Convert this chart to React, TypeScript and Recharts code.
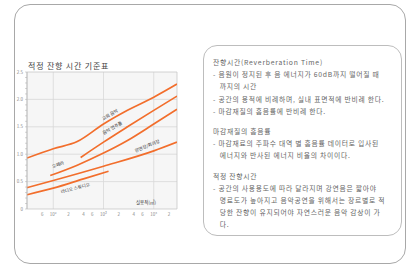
import React from "react";
import {
  LineChart,
  Line,
  XAxis,
  YAxis,
  CartesianGrid,
  ReferenceArea,
  ReferenceDot,
} from "recharts";

// room volume (m³) vs reverberation time (s)
const church = [
  { v: 30, t: 0.93 },
  { v: 100, t: 1.1 },
  { v: 300, t: 1.23 },
  { v: 1000, t: 1.55 },
  { v: 3000, t: 1.8 },
  { v: 10000, t: 2.04 },
  { v: 29000, t: 2.28 },
];
const concertHall = [
  { v: 350, t: 0.94 },
  { v: 1000, t: 1.22 },
  { v: 3000, t: 1.5 },
  { v: 10000, t: 1.8 },
  { v: 29000, t: 2.06 },
];
const opera = [
  { v: 87, t: 0.61 },
  { v: 300, t: 0.8 },
  { v: 1000, t: 1.02 },
  { v: 3000, t: 1.25 },
  { v: 10000, t: 1.55 },
  { v: 29000, t: 1.82 },
];
const lecture = [
  { v: 30, t: 0.39 },
  { v: 100, t: 0.52 },
  { v: 1000, t: 0.78 },
  { v: 10000, t: 1.06 },
  { v: 29000, t: 1.22 },
];
const studio = [
  { v: 30, t: 0.26 },
  { v: 100, t: 0.38 },
  { v: 400, t: 0.55 },
  { v: 1260, t: 0.69 },
];

const seriesList = [church, concertHall, opera, lecture, studio];

const curveLabels = [
  { text: "교회 음악", v: 1350, t: 1.72, angle: -30 },
  { text: "음악 연주홀", v: 1500, t: 1.48, angle: -30 },
  { text: "오페라", v: 125, t: 0.81, angle: -20 },
  { text: "강연장/회의장", v: 7400, t: 1.15, angle: -22 },
  { text: "라디오 스튜디오", v: 275, t: 0.38, angle: -15 },
];

const xTicks = [60, 80, 100, 200, 400, 600, 800, 1000, 2000, 4000, 6000, 8000, 10000, 20000];
const xTickLabels = ["6", "8", "10²", "2", "4", "6", "8", "10³", "2", "4", "6", "8", "10⁴", "2"];
const yTicks = [0, 0.1, 0.2, 0.3, 0.4, 0.5, 0.6, 0.7, 0.8, 0.9, 1, 1.1, 1.2, 1.3, 1.4, 1.5, 1.6, 1.7, 1.8, 1.9, 2, 2.1, 2.2, 2.3, 2.4, 2.5];
const yLabels: Record<string, string> = { "0": "0", "0.5": "0.5", "1": "1.0", "1.5": "1.5", "2": "2.0", "2.5": "2.5" };

const textLines = [
  { s: "잔향시간(Reverberation Time)", gap: 0 },
  { s: "- 음원이 정지된 후 음 에너지가 60dB까지 떨어질 때", gap: 0 },
  { s: "   까지의 시간", gap: 0 },
  { s: "- 공간의 용적에 비례하며, 실내 표면적에 반비례 한다.", gap: 0 },
  { s: "- 마감재질의 흡음률에 반비례 한다.", gap: 0 },
  { s: "마감재질의 흡음률", gap: 8 },
  { s: "- 마감재료의 주파수 대역 별 흡음률 데이터로 입사된", gap: 0 },
  { s: "   에너지와 반사된 에너지 비율의 차이이다.", gap: 0 },
  { s: "적정 잔향시간", gap: 8 },
  { s: "- 공간의 사용용도에 따라 달라지며 강연음은 짧아야", gap: 0 },
  { s: "   명료도가 높아지고 음악공연을 위해서는 장르별로 적", gap: 0 },
  { s: "   당한 잔향이 유지되어야 자연스러운 음악 감상이 가", gap: 0 },
  { s: "   다.", gap: 0 },
];

const ORANGE = "#f26e2c";

export default function App() {
  return (
    <div
      style={{
        position: "absolute",
        left: 0,
        top: 0,
        width: 411,
        height: 266,
        background: "#fff",
        fontFamily: "'Noto Sans CJK KR', 'Noto Sans', sans-serif",
        overflow: "hidden",
      }}
    >
      <div
        style={{
          position: "absolute",
          left: 14,
          top: 4,
          width: 390,
          height: 258,
          border: "1px solid #a8a8a8",
          borderRadius: 16,
        }}
      />
      <div
        style={{
          position: "absolute",
          left: 28,
          top: 60,
          fontSize: 8,
          letterSpacing: 0.8,
          color: "#444",
          whiteSpace: "nowrap",
        }}
      >
        적정 잔향 시간 기준표
      </div>
      <div style={{ position: "absolute", left: 0, top: 60 }}>
        <LineChart width={185} height={170} margin={{ top: 12, right: 8, left: 0, bottom: 9 }}>
          <CartesianGrid
            fill="#f6f6f6"
            stroke="#d8d8d8"
            strokeWidth={0.8}
            horizontalValues={[0.5, 1, 1.5, 2]}
            verticalValues={[100, 1000, 10000]}
          />
          <ReferenceArea x1={30} x2={29000} y1={0} y2={2.5} fill="none" stroke="#c8c8c8" strokeWidth={0.8} />
          <XAxis
            dataKey="v"
            type="number"
            scale="log"
            domain={[30, 29000]}
            ticks={xTicks}
            allowDataOverflow
            tickFormatter={(v: number) => xTickLabels[xTicks.indexOf(v)] ?? ""}
            tick={{ fontSize: 4.5, fill: "#888" }}
            tickSize={2}
            axisLine={false}
            tickLine={false}
            height={12}
          />
          <YAxis
            type="number"
            domain={[0, 2.5]}
            ticks={yTicks}
            interval={0}
            width={27}
            tickFormatter={(v: number) => yLabels[String(Math.round(v * 10) / 10)] ?? ""}
            tick={{ fontSize: 4.5, fill: "#888" }}
            tickSize={2}
            tickLine={{ stroke: "#aaa", strokeWidth: 0.5 }}
            axisLine={{ stroke: "#bbb", strokeWidth: 0.8 }}
          />
          {seriesList.map((d, i) => (
            <Line
              key={i}
              data={d}
              dataKey="t"
              type="monotone"
              stroke={ORANGE}
              strokeWidth={1.7}
              dot={false}
              isAnimationActive={false}
            />
          ))}
          {curveLabels.map((l) => (
            <ReferenceDot
              key={l.text}
              x={l.v}
              y={l.t}
              r={0}
              fill="none"
              stroke="none"
              label={{ value: l.text, angle: l.angle, position: "center", fontSize: 4.5, fill: "#333" }}
            />
          ))}
          <ReferenceDot
            x={7000}
            y={0.12}
            r={0}
            fill="none"
            stroke="none"
            label={{ value: "실용적(㎥)", position: "center", fontSize: 4.5, fill: "#333" }}
          />
        </LineChart>
      </div>
      <div
        style={{
          position: "absolute",
          left: 203,
          top: 45,
          width: 197,
          height: 189,
          border: "1px solid #bdbdbd",
          borderRadius: 14,
        }}
      />
      <div style={{ position: "absolute", left: 213, top: 56, fontSize: 6.8, color: "#666", lineHeight: "12.2px" }}>
        {textLines.map((l, i) => (
          <div key={i} style={{ whiteSpace: "pre", marginTop: l.gap, letterSpacing: 0.75 }}>
            {l.s}
          </div>
        ))}
      </div>
    </div>
  );
}
